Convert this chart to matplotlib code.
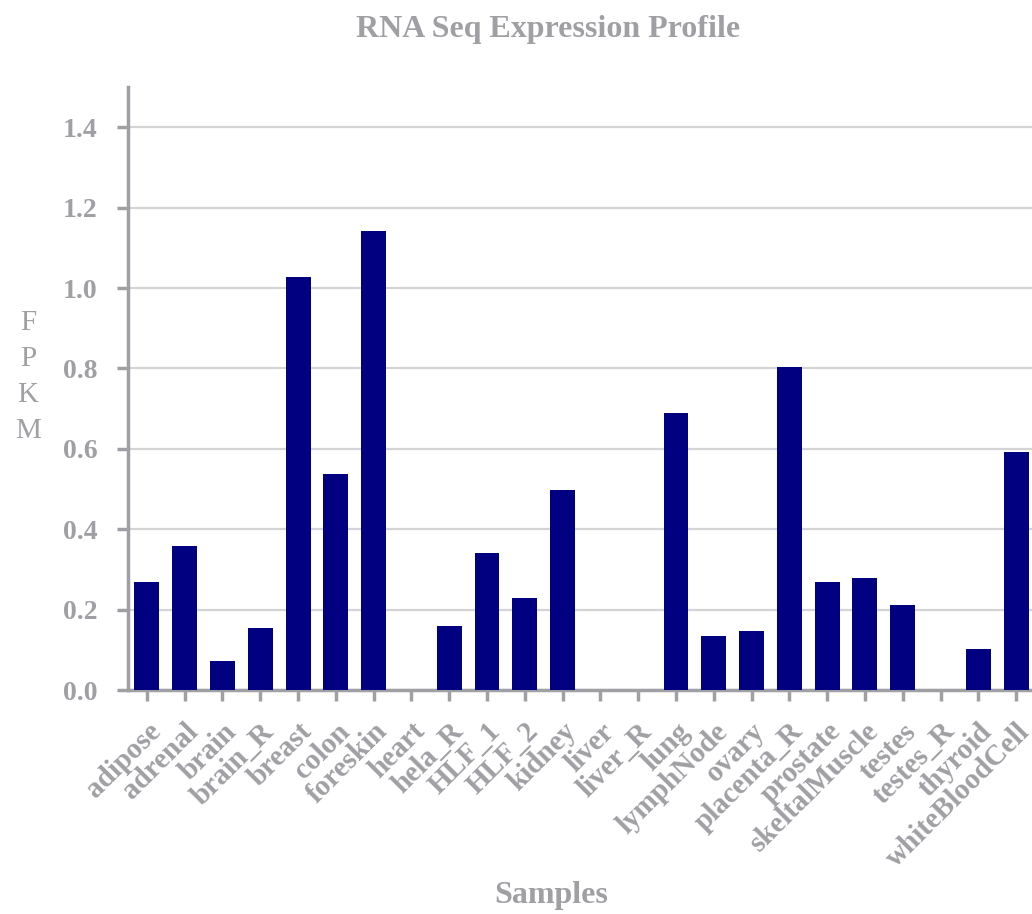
import numpy as np
import matplotlib.pyplot as plt

samples = ['adipose', 'adrenal', 'brain', 'brain_R', 'breast', 'colon', 'foreskin',
           'heart', 'hela_R', 'HLF_1', 'HLF_2', 'kidney', 'liver', 'liver_R', 'lung',
           'lymphNode', 'ovary', 'placenta_R', 'prostate', 'skeltalMuscle', 'testes',
           'testes_R', 'thyroid', 'whiteBloodCell']
fpkm = [0.269, 0.358, 0.072, 0.154, 1.027, 0.537, 1.142,
        0.0, 0.159, 0.341, 0.229, 0.498, 0.0, 0.0, 0.689,
        0.134, 0.147, 0.803, 0.269, 0.279, 0.211,
        0.0, 0.102, 0.592]
yticks = [0.0, 0.2, 0.4, 0.6, 0.8, 1.0, 1.2, 1.4]

grey = '#a0a0a4'
plt.rcParams['font.family'] = ['Liberation Serif', 'DejaVu Serif']

fig = plt.figure(figsize=[10.32, 9.14], dpi=100)
ax = fig.add_axes([128/1032, 1 - 690/914, (1035-128)/1032, (690-87)/914])

x = np.arange(len(samples))
ax.bar(x, fpkm, width=0.66, color='#000080', zorder=3)

ax.set_xlim(-0.5, len(samples) - 0.5)
ax.set_ylim(0, 1.5)
ax.set_yticks(yticks)
ax.set_yticklabels(['{:.1f}'.format(v) for v in yticks], fontsize=20,
                   fontweight='bold', color=grey)
ax.set_xticks(x)
ax.set_xticklabels(samples, rotation=45, ha='right', rotation_mode='anchor',
                   fontsize=21, fontweight='bold', color=grey)

ax.yaxis.grid(True, color='#d4d4d4', linewidth=1.6, zorder=0)
ax.set_axisbelow(True)
for s in ['top', 'right']:
    ax.spines[s].set_visible(False)
for s in ['left', 'bottom']:
    ax.spines[s].set_color(grey)
    ax.spines[s].set_linewidth(2.5)
ax.tick_params(axis='both', colors=grey, length=8, width=2.5, direction='out')
ax.tick_params(axis='y', pad=14, labelcolor=grey)
ax.tick_params(axis='x', pad=12, labelcolor=grey)

fig.text(548/1032, 1 - 29/914, 'RNA Seq Expression Profile', ha='center', va='center',
         fontsize=23, fontweight='bold', color=grey)
fig.text(551/1032, 1 - 895/914, 'Samples', ha='center', va='center',
         fontsize=23, fontweight='bold', color=grey)
fig.text(28/1032, 1 - 377/914, 'F\nP\nK\nM', ha='center', va='center',
         fontsize=21, color=grey, linespacing=1.5)

plt.savefig('out.png', dpi=100)
